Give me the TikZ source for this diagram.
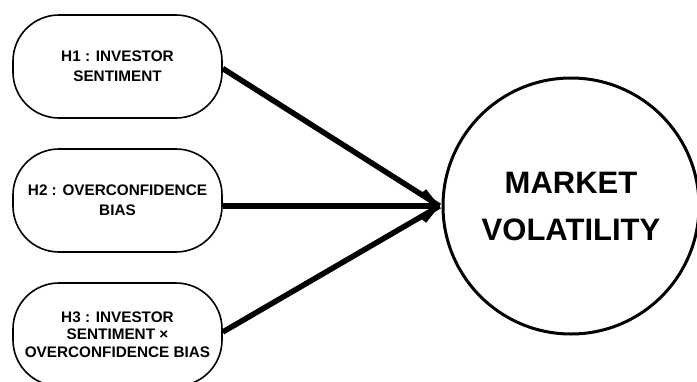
\documentclass[tikz,border=0pt]{standalone}
\usepackage{fontspec}
\setmainfont{Liberation Sans}
\usetikzlibrary{arrows.meta}
\begin{document}
\begin{tikzpicture}[x=1pt,y=-1pt,
  hypo/.style={draw, line width=1.6pt, rounded corners=46pt, minimum width=209pt, minimum height=103pt,
    align=center, font=\fontsize{15.3}{20}\selectfont\bfseries, inner sep=0pt},
  target/.style={draw, circle, line width=3pt, minimum size=256pt, align=center,
    font=\fontsize{31}{47}\selectfont\bfseries},
  link/.style={line width=5.5pt}
]
\useasboundingbox (0,0) rectangle (697,381);
\node[hypo] (o1) at (117.5,66.5) {H1 : INVESTOR\\SENTIMENT};
\node[hypo] (o2) at (117.5,200.5) {H2 : OVERCONFIDENCE\\BIAS};
\node[hypo, font=\fontsize{15.3}{17.5}\selectfont\bfseries] (o3) at (117.5,334.5) {H3 : INVESTOR\\SENTIMENT ×\\OVERCONFIDENCE BIAS};
\node[target] (mv) at (571,206) {MARKET\\VOLATILITY};
\coordinate (tip) at ([xshift=-2pt]mv.west);
\draw[link] ([yshift=-2pt]o1.east) -- (tip);
\draw[link] ([yshift=2.5pt]o3.east) -- (tip);
\draw[link, -{Straight Barb[length=12pt,width=30pt]}] (o2.east |- tip) -- (tip);
\end{tikzpicture}
\end{document}
